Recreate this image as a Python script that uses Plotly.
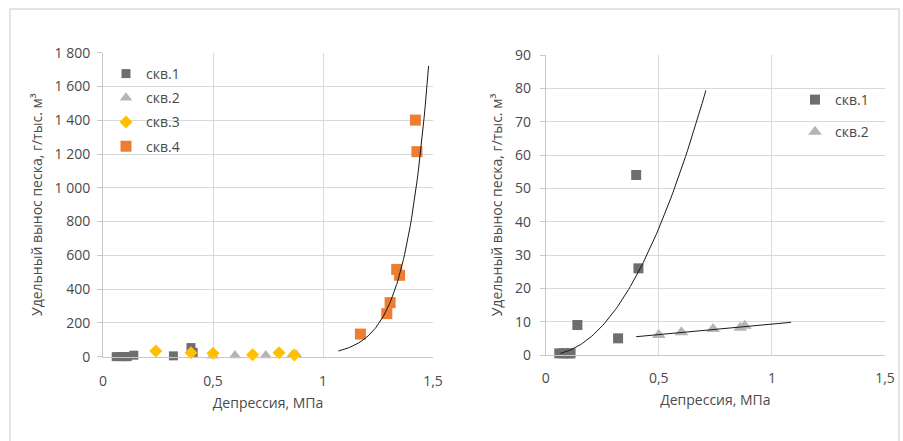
import numpy as np
import plotly.graph_objects as go

# ---- data ----
skv1_x = [0.06, 0.08, 0.10, 0.11, 0.14, 0.32, 0.40, 0.41]
skv1_y = [0.5, 0.5, 0.5, 0.5, 9.0, 5.0, 54.0, 26.0]

skv2_x = [0.50, 0.60, 0.74, 0.86, 0.88]
skv2_y = [6.0, 6.8, 7.8, 8.2, 8.8]

skv3_x = [0.24, 0.40, 0.50, 0.68, 0.80, 0.87]
skv3_y = [34, 24, 20, 12, 24, 10]

skv4_x = [1.17, 1.29, 1.305, 1.335, 1.348, 1.42, 1.427]
skv4_y = [134, 255, 320, 517, 482, 1401, 1214]

# trend lines (Excel-style): exponential for скв.4, power for скв.1, linear for скв.2
trend4_a, trend4_b, trend4_range = 0.00118, 9.59, (1.07, 1.48)
trend1_a, trend1_n, trend1_range = 165.0, 2.12, (0.065, 0.708)
trend2_k, trend2_c, trend2_range = 6.3, 2.97, (0.40, 1.085)

x_ticks = [0, 0.5, 1, 1.5]
left_y_ticks = list(range(0, 1801, 200))
right_y_ticks = list(range(0, 91, 10))

legend_names = ["скв.1", "скв.2", "скв.3", "скв.4"]
colors = ["#6e6e6e", "#b5b5b5", "#ffc000", "#ed7d31"]

FONT = "Open Sans"
TXT = "#4a4a4a"
GRID = "#d9d9d9"

fig = go.Figure()

# left chart
fig.add_trace(go.Scatter(x=skv1_x, y=skv1_y, mode="markers", name=legend_names[0],
                         marker=dict(symbol="square", size=9, color=colors[0]),
                         cliponaxis=False, legend="legend", legendgroup="a1",
                         xaxis="x", yaxis="y"))
fig.add_trace(go.Scatter(x=skv2_x, y=skv2_y, mode="markers", name=legend_names[1],
                         marker=dict(symbol="triangle-up", size=11, color=colors[1]),
                         cliponaxis=False, legend="legend", legendgroup="a2",
                         xaxis="x", yaxis="y"))
fig.add_trace(go.Scatter(x=skv3_x, y=skv3_y, mode="markers", name=legend_names[2],
                         marker=dict(symbol="diamond", size=10, color=colors[2]),
                         cliponaxis=False, legend="legend", legendgroup="a3",
                         xaxis="x", yaxis="y"))
fig.add_trace(go.Scatter(x=skv4_x, y=skv4_y, mode="markers", name=legend_names[3],
                         marker=dict(symbol="square", size=11, color=colors[3]),
                         cliponaxis=False, legend="legend", legendgroup="a4",
                         xaxis="x", yaxis="y"))
t4x = np.linspace(trend4_range[0], trend4_range[1], 80)
fig.add_trace(go.Scatter(x=t4x, y=trend4_a * np.exp(trend4_b * t4x), mode="lines",
                         line=dict(color="#1a1a1a", width=1), showlegend=False,
                         hoverinfo="skip", xaxis="x", yaxis="y"))

# right chart
fig.add_trace(go.Scatter(x=skv1_x, y=skv1_y, mode="markers", name=legend_names[0],
                         marker=dict(symbol="square", size=10, color=colors[0]),
                         cliponaxis=False, legend="legend2", legendgroup="b1",
                         xaxis="x2", yaxis="y2"))
fig.add_trace(go.Scatter(x=skv2_x, y=skv2_y, mode="markers", name=legend_names[1],
                         marker=dict(symbol="triangle-up", size=12, color=colors[1]),
                         cliponaxis=False, legend="legend2", legendgroup="b2",
                         xaxis="x2", yaxis="y2"))
t1x = np.linspace(trend1_range[0], trend1_range[1], 80)
fig.add_trace(go.Scatter(x=t1x, y=trend1_a * t1x ** trend1_n, mode="lines",
                         line=dict(color="#1a1a1a", width=1), showlegend=False,
                         hoverinfo="skip", xaxis="x2", yaxis="y2"))
t2x = np.array(trend2_range)
fig.add_trace(go.Scatter(x=t2x, y=trend2_k * t2x + trend2_c, mode="lines",
                         line=dict(color="#1a1a1a", width=1), showlegend=False,
                         hoverinfo="skip", xaxis="x2", yaxis="y2"))

W, H = 903, 441
def px(v):
    return v / W
def py(v):
    return 1 - v / H

axis_common = dict(showgrid=True, gridcolor=GRID, gridwidth=1, zeroline=False,
                   showline=True, linecolor="#c8c8c8", linewidth=1, automargin=False,
                   tickfont=dict(family=FONT, size=14, color=TXT),
                   title_font=dict(family=FONT, size=14, color=TXT))

fig.update_layout(
    width=W, height=H,
    margin=dict(l=0, r=0, t=0, b=0, autoexpand=False),
    paper_bgcolor="white", plot_bgcolor="white",
    separators=", ",
    font=dict(family=FONT, color=TXT),
    xaxis=dict(domain=[px(103), px(433)], range=[0, 1.5], tickvals=x_ticks,
               anchor="y", ticks="", ticklabelstandoff=11,
               title=dict(text="Депрессия, МПа", standoff=9), **axis_common),
    yaxis=dict(domain=[py(356.7), py(52.7)], range=[0, 1800], tickvals=left_y_ticks,
               anchor="x", ticks="outside", ticklen=5, tickcolor="#c8c8c8",
               ticklabelstandoff=4, separatethousands=True,
               title=dict(text="Удельный вынос песка, г/тыс. м³", standoff=8),
               **axis_common),
    xaxis2=dict(domain=[px(545.7), px(885)], range=[0, 1.5], tickvals=x_ticks,
                anchor="y2", ticks="", ticklabelstandoff=10,
                title=dict(text="Депрессия, МПа", standoff=9), **axis_common),
    yaxis2=dict(domain=[py(355), py(55)], range=[0, 90], tickvals=right_y_ticks,
                anchor="x2", ticks="outside", ticklen=5, tickcolor="#c8c8c8",
                ticklabelstandoff=6,
                title=dict(text="Удельный вынос песка, г/тыс. м³", standoff=8),
                **axis_common),
    legend=dict(x=px(106), y=py(58), xanchor="left", yanchor="top",
                bgcolor="rgba(0,0,0,0)", tracegroupgap=3,
                font=dict(family=FONT, size=14, color=TXT)),
    legend2=dict(x=px(795), y=py(84), xanchor="left", yanchor="top",
                 bgcolor="rgba(0,0,0,0)", tracegroupgap=11,
                 font=dict(family=FONT, size=14, color=TXT)),
    shapes=[dict(type="rect", xref="paper", yref="paper",
                 x0=px(10), x1=px(899), y0=-0.05, y1=py(9),
                 line=dict(color="#dcdcdc", width=1.5), layer="below")],
    showlegend=True,
)

fig.write_html("out.html")
